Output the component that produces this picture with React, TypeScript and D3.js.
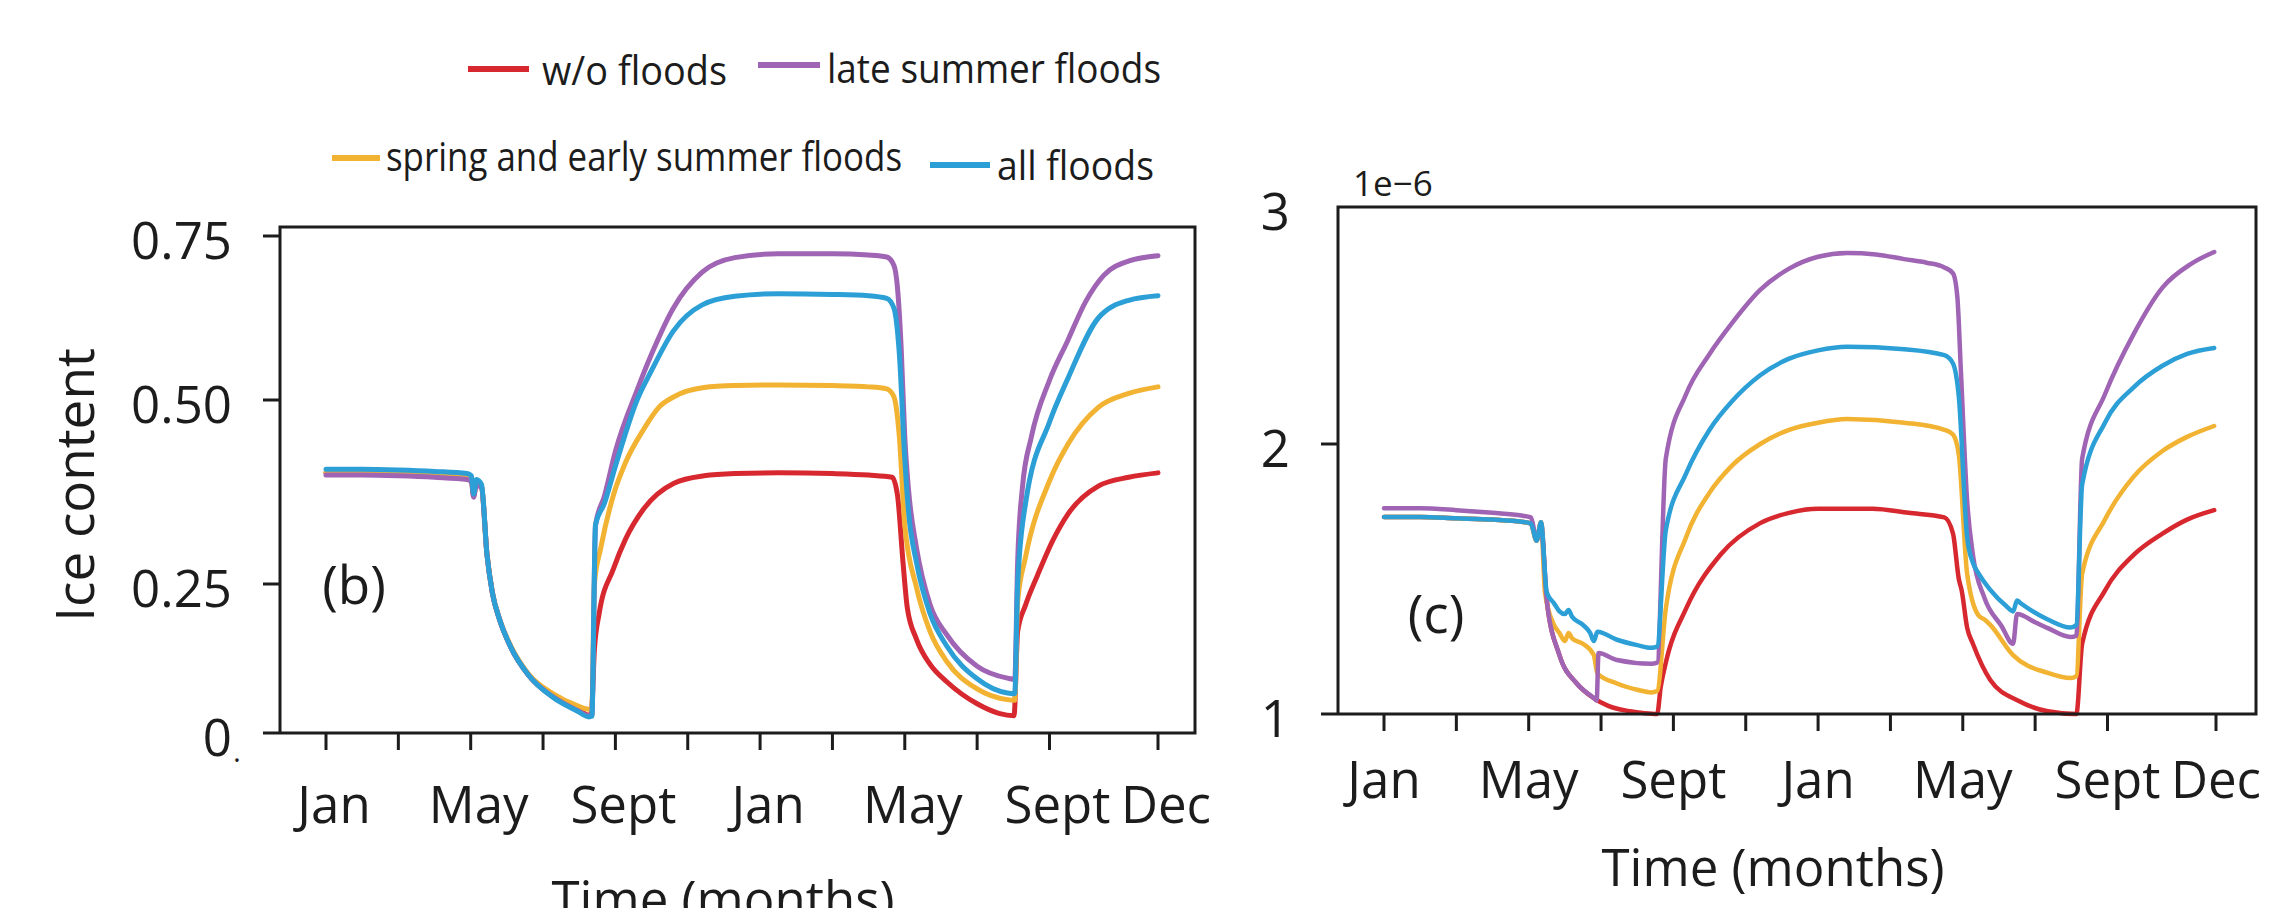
import React from "react";
import * as d3 from "d3";

type Pt = [number, number];

// Month index along the two-year axis (0 = Jan of year 1, 23 = Dec of year 2)
const MONTH_TICKS = [0, 2, 4, 6, 8, 10, 12, 14, 16, 18, 20, 23];
const MONTH_LABELS: [number, string][] = [
  [0, "Jan"], [4, "May"], [8, "Sept"], [12, "Jan"], [16, "May"], [20, "Sept"], [23, "Dec"],
];

const ICE_TICKS = [0, 0.25, 0.5, 0.75];
const ICE_TICK_LABELS = ["0", "0.25", "0.50", "0.75"];
const C_TICKS = [1, 2, 3];
const C_TICK_LABELS = ["1", "2", "3"];

const SERIES_NAMES = ["w/o floods", "late summer floods", "spring and early summer floods", "all floods"];
const COLORS = {
  none: "#d7282f",
  late: "#a064b4",
  spring: "#f2b232",
  all: "#2b9fd6",
};

// Panel (b): ice content
const bWithout: Pt[] = [
  [0, 0.401], [1, 0.401], [2, 0.4], [3, 0.398], [3.9, 0.395], [4.02, 0.392], [4.08, 0.37], [4.16, 0.388],
  [4.3, 0.382], [4.45, 0.29], [4.6, 0.235], [4.8, 0.19], [5.1, 0.145], [5.6, 0.097], [6.27, 0.061],
  [6.94, 0.04], [7.27, 0.03], [7.33, 0.03], [7.42, 0.14], [7.55, 0.2], [7.94, 0.27], [8.28, 0.311],
  [8.78, 0.352], [9.62, 0.387], [10.45, 0.397], [11.3, 0.4], [12.5, 0.401], [14, 0.4], [15, 0.398],
  [15.65, 0.395], [15.8, 0.37], [15.95, 0.28], [16.07, 0.21], [16.32, 0.158], [16.7, 0.115], [17.16, 0.086],
  [18.0, 0.049], [18.6, 0.033], [19.02, 0.029], [19.12, 0.17], [19.34, 0.215], [19.67, 0.262], [20.1, 0.31],
  [20.51, 0.345], [21.35, 0.383], [22.19, 0.395], [23, 0.401],
];
const bSpring: Pt[] = [
  [0, 0.401], [1, 0.401], [2, 0.4], [3, 0.398], [3.9, 0.395], [4.02, 0.392], [4.08, 0.37], [4.16, 0.388],
  [4.3, 0.382], [4.45, 0.29], [4.6, 0.236], [4.8, 0.191], [5.1, 0.147], [5.6, 0.099], [6.27, 0.066],
  [6.94, 0.046], [7.27, 0.04], [7.35, 0.042], [7.42, 0.25], [7.6, 0.3], [7.94, 0.37], [8.28, 0.415],
  [8.78, 0.46], [9.2, 0.49], [9.62, 0.505], [10.45, 0.519], [11.3, 0.522], [12.5, 0.523], [14, 0.522],
  [15, 0.52], [15.5, 0.517], [15.7, 0.505], [15.85, 0.45], [16.0, 0.33], [16.32, 0.245], [16.7, 0.17],
  [17.16, 0.12], [18.0, 0.074], [18.84, 0.056], [19.04, 0.055], [19.12, 0.22], [19.34, 0.287], [20.0, 0.39],
  [20.51, 0.44], [21.35, 0.49], [22.19, 0.51], [23, 0.52],
];
const bLate: Pt[] = [
  [0, 0.398], [1, 0.398], [2, 0.397], [3, 0.395], [3.9, 0.392], [4.02, 0.389], [4.08, 0.368], [4.16, 0.385],
  [4.3, 0.38], [4.45, 0.29], [4.6, 0.235], [4.8, 0.19], [5.1, 0.145], [5.6, 0.097], [6.27, 0.061],
  [6.94, 0.038], [7.27, 0.029], [7.35, 0.03], [7.45, 0.33], [7.7, 0.37], [8.0, 0.43], [8.6, 0.515],
  [9.0, 0.57], [9.6, 0.64], [10.4, 0.695], [11.3, 0.717], [12.5, 0.723], [14, 0.723], [15, 0.721],
  [15.5, 0.718], [15.7, 0.705], [15.8, 0.67], [15.9, 0.58], [16.0, 0.45], [16.1, 0.38], [16.32, 0.3],
  [16.7, 0.215], [17.16, 0.165], [18.0, 0.112], [18.84, 0.092], [19.04, 0.09], [19.12, 0.28], [19.25, 0.38],
  [19.5, 0.45], [20.0, 0.53], [20.5, 0.59], [21.0, 0.65], [21.5, 0.69], [22.2, 0.712], [23, 0.72],
];
const bAll: Pt[] = [
  [0, 0.406], [1, 0.406], [2, 0.405], [3, 0.403], [3.9, 0.4], [4.02, 0.397], [4.08, 0.372], [4.16, 0.392],
  [4.3, 0.385], [4.45, 0.29], [4.6, 0.235], [4.8, 0.19], [5.1, 0.145], [5.6, 0.097], [6.27, 0.06],
  [6.94, 0.037], [7.27, 0.027], [7.35, 0.028], [7.45, 0.33], [7.7, 0.36], [8.0, 0.41], [8.6, 0.5],
  [9.0, 0.545], [9.6, 0.605], [10.4, 0.645], [11.3, 0.658], [12.5, 0.662], [14, 0.661], [15, 0.659],
  [15.5, 0.655], [15.7, 0.64], [15.85, 0.57], [16.0, 0.42], [16.1, 0.35], [16.32, 0.28], [16.7, 0.2],
  [17.16, 0.146], [18.0, 0.091], [18.84, 0.067], [19.04, 0.066], [19.12, 0.25], [19.34, 0.36], [20.0, 0.47],
  [20.51, 0.533], [21.35, 0.625], [22.19, 0.652], [23, 0.659],
];

// Panel (c): values in units of 1e-6
const cWithout: Pt[] = [
  [0, 1.73], [1, 1.73], [2, 1.725], [3, 1.72], [3.8, 1.712], [4.06, 1.705], [4.22, 1.642], [4.34, 1.71],
  [4.5, 1.42], [4.85, 1.218], [5.33, 1.113], [5.8, 1.059], [6.2, 1.03], [6.8, 1.01], [7.2, 1.003],
  [7.55, 1.0], [7.65, 1.1], [7.79, 1.19], [8.35, 1.39], [9.3, 1.59], [10.4, 1.707], [11.2, 1.745],
  [12.0, 1.76], [13.5, 1.76], [14.5, 1.745], [15.49, 1.728], [15.73, 1.668], [15.89, 1.5], [15.97, 1.457],
  [16.12, 1.32], [16.28, 1.26], [16.76, 1.126], [17.55, 1.048], [18.35, 1.01], [19.14, 1.0], [19.3, 1.26],
  [19.93, 1.457], [20.73, 1.59], [21.52, 1.668], [22.2, 1.72], [22.95, 1.755],
];
const cSpring: Pt[] = [
  [0, 1.73], [1, 1.73], [2, 1.725], [3, 1.72], [3.8, 1.712], [4.06, 1.705], [4.22, 1.642], [4.34, 1.71],
  [4.45, 1.45], [4.7, 1.33], [4.85, 1.3], [5.0, 1.27], [5.1, 1.3], [5.2, 1.28], [5.5, 1.26], [5.8, 1.218],
  [5.9, 1.15], [6.44, 1.113], [7.0, 1.09], [7.39, 1.08], [7.55, 1.085], [7.79, 1.39], [8.35, 1.655],
  [9.0, 1.82], [9.62, 1.92], [10.4, 2.0], [11.2, 2.06], [12.0, 2.09], [12.8, 2.105], [14.38, 2.09],
  [15.49, 2.06], [15.73, 2.04], [15.89, 1.96], [16.12, 1.52], [16.44, 1.364], [16.6, 1.35], [16.76, 1.33],
  [17.39, 1.218], [18.35, 1.152], [18.98, 1.133], [19.14, 1.14], [19.3, 1.52], [19.93, 1.72], [20.73, 1.88],
  [21.52, 1.974], [22.2, 2.03], [22.95, 2.076],
];
const cLate: Pt[] = [
  [0, 1.762], [1, 1.762], [2, 1.755], [3, 1.745], [3.8, 1.735], [4.06, 1.728], [4.22, 1.65], [4.34, 1.69],
  [4.5, 1.42], [4.85, 1.218], [5.33, 1.113], [5.8, 1.059], [5.88, 1.05], [5.93, 1.226], [6.44, 1.2],
  [7.39, 1.186], [7.55, 1.19], [7.79, 1.946], [8.35, 2.21], [9.0, 2.38], [9.62, 2.51], [10.4, 2.65],
  [11.2, 2.74], [12.0, 2.79], [12.8, 2.806], [13.6, 2.8], [14.38, 2.78], [15.0, 2.765], [15.49, 2.745],
  [15.73, 2.72], [15.85, 2.62], [15.95, 2.3], [16.12, 1.79], [16.28, 1.59], [16.6, 1.43], [17.07, 1.326],
  [17.39, 1.26], [17.5, 1.37], [18.0, 1.34], [18.35, 1.318], [18.98, 1.285], [19.14, 1.29], [19.3, 1.946],
  [19.93, 2.21], [20.73, 2.466], [21.52, 2.66], [22.31, 2.76], [22.95, 2.81],
];
const cAll: Pt[] = [
  [0, 1.73], [1, 1.73], [2, 1.725], [3, 1.72], [3.8, 1.712], [4.06, 1.705], [4.22, 1.642], [4.34, 1.71],
  [4.5, 1.45], [4.7, 1.41], [4.85, 1.38], [5.0, 1.37], [5.1, 1.385], [5.2, 1.36], [5.5, 1.33], [5.7, 1.3],
  [5.8, 1.27], [5.9, 1.305], [6.44, 1.275], [7.0, 1.255], [7.39, 1.245], [7.55, 1.25], [7.79, 1.68],
  [8.35, 1.89], [9.0, 2.06], [9.62, 2.18], [10.4, 2.29], [11.2, 2.36], [12.0, 2.395], [12.8, 2.41],
  [14.38, 2.4], [15.49, 2.375], [15.73, 2.34], [15.89, 2.2], [16.12, 1.655], [16.28, 1.56], [16.44, 1.52],
  [16.76, 1.46], [17.2, 1.4], [17.39, 1.38], [17.5, 1.42], [17.6, 1.41], [18.35, 1.35], [18.98, 1.32],
  [19.14, 1.33], [19.3, 1.85], [19.93, 2.09], [20.73, 2.24], [21.52, 2.33], [22.2, 2.38], [22.95, 2.405],
];

const FONT = "'Open Sans', 'Noto Sans', sans-serif";
const INK = "#1c1c1c";
const TICK = 17;

type Scale = d3.ScaleLinear<number, number>;

interface PanelProps {
  x: Scale;
  y: Scale;
  right: number;
  top: number;
  yTicks: number[];
  yLabels: string[];
  drawTopTick: boolean;
  xLabelDx: number;
  xLabelDrop: number;
  series: { data: Pt[]; color: string }[];
  lineWidth: number;
}

function Panel({ x, y, right, top, yTicks, yLabels, drawTopTick, xLabelDx, xLabelDrop, series, lineWidth }: PanelProps) {
  const left = x.range()[0] - 46;
  const bottom = y(y.domain()[0]);
  const line = d3
    .line<Pt>()
    .x((d) => x(d[0]))
    .y((d) => y(d[1]))
    .curve(d3.curveMonotoneX);
  return (
    <g>
      {series.map((s, i) => (
        <path
          key={i}
          d={line(s.data) ?? ""}
          fill="none"
          stroke={s.color}
          strokeWidth={lineWidth}
          strokeLinejoin="round"
          strokeLinecap="round"
        />
      ))}
      <path
        d={`M${left},${bottom}V${top}H${right}V${bottom}H${left - TICK}`}
        fill="none"
        stroke={INK}
        strokeWidth={3}
      />
      {yTicks.map((v, i) => {
        const py = y(v);
        const showTick = i > 0 && (drawTopTick || i < yTicks.length - 1);
        return (
          <g key={v}>
            {showTick && <line x1={left - TICK} x2={left} y1={py} y2={py} stroke={INK} strokeWidth={3} />}
            <text
              x={left - TICK - 31}
              y={py + 23}
              textAnchor="end"
              fontSize={51}
              fontFamily={FONT}
              fill={INK}
            >
              {yLabels[i]}
            </text>
          </g>
        );
      })}
      {MONTH_TICKS.map((m) => (
        <line key={m} x1={x(m)} x2={x(m)} y1={bottom} y2={bottom + TICK} stroke={INK} strokeWidth={3} />
      ))}
      {MONTH_LABELS.map(([m, label], i) => (
        <text
          key={i}
          x={x(m) + xLabelDx}
          y={bottom + xLabelDrop}
          textAnchor="middle"
          fontSize={51}
          fontFamily={FONT}
          fill={INK}
        >
          {label}
        </text>
      ))}
    </g>
  );
}

export default function App() {
  const xB = d3.scaleLinear().domain([0, 23]).range([326, 1158]);
  const yB = d3.scaleLinear().domain([0, 0.25, 0.5, 0.75]).range([733, 584, 400, 236]);
  const xC = d3.scaleLinear().domain([0, 23]).range([1384, 2216]);
  const yC = d3.scaleLinear().domain([1, 2, 3]).range([714, 444, 207]);

  const legendText = { fontSize: 41, fontFamily: FONT, fill: INK } as const;

  return (
    <svg
      width={2276}
      height={908}
      viewBox="0 0 2276 908"
      style={{ position: "absolute", left: 0, top: 0, display: "block", background: "#fff" }}
    >
      <rect width={2276} height={908} fill="#fff" />

      {/* legend */}
      <line x1={468} x2={529} y1={69} y2={69} stroke={COLORS.none} strokeWidth={6} />
      <text x={542} y={85} textLength={185} lengthAdjust="spacingAndGlyphs" {...legendText}>
        {SERIES_NAMES[0]}
      </text>
      <line x1={758} x2={820} y1={65} y2={65} stroke={COLORS.late} strokeWidth={6} />
      <text x={827} y={83} textLength={334} lengthAdjust="spacingAndGlyphs" {...legendText}>
        {SERIES_NAMES[1]}
      </text>
      <line x1={332} x2={380} y1={158} y2={158} stroke={COLORS.spring} strokeWidth={6} />
      <text x={386} y={171} textLength={516} lengthAdjust="spacingAndGlyphs" {...legendText}>
        {SERIES_NAMES[2]}
      </text>
      <line x1={930} x2={990} y1={165} y2={165} stroke={COLORS.all} strokeWidth={6} />
      <text x={997} y={180} textLength={157} lengthAdjust="spacingAndGlyphs" {...legendText}>
        {SERIES_NAMES[3]}
      </text>

      {/* panel (b) */}
      <Panel
        x={xB}
        y={yB}
        right={1195}
        top={227}
        yTicks={ICE_TICKS}
        yLabels={ICE_TICK_LABELS}
        drawTopTick={true}
        xLabelDx={8}
        xLabelDrop={90}
        lineWidth={5}
        series={[
          { data: bWithout, color: COLORS.none },
          { data: bSpring, color: COLORS.spring },
          { data: bLate, color: COLORS.late },
          { data: bAll, color: COLORS.all },
        ]}
      />
      <text x={354} y={604} textAnchor="middle" fontSize={53} fontFamily={FONT} fill={INK}>
        (b)
      </text>
      <text x={237} y={762} textAnchor="middle" fontSize={30} fontFamily={FONT} fill={INK}>
        .
      </text>
      <text
        transform="translate(94,485) rotate(-90)"
        textAnchor="middle"
        fontSize={53}
        fontFamily={FONT}
        fill={INK}
      >
        Ice content
      </text>
      <text x={723} y={918} textAnchor="middle" fontSize={51} fontFamily={FONT} fill={INK}>
        Time (months)
      </text>

      {/* panel (c) */}
      <Panel
        x={xC}
        y={yC}
        right={2256}
        top={207}
        yTicks={C_TICKS}
        yLabels={C_TICK_LABELS}
        drawTopTick={false}
        xLabelDx={0}
        xLabelDrop={84}
        lineWidth={4.5}
        series={[
          { data: cWithout, color: COLORS.none },
          { data: cSpring, color: COLORS.spring },
          { data: cLate, color: COLORS.late },
          { data: cAll, color: COLORS.all },
        ]}
      />
      <text x={1353} y={196} fontSize={35} fontFamily={FONT} fill={INK}>
        1e−6
      </text>
      <text x={1436} y={633} textAnchor="middle" fontSize={53} fontFamily={FONT} fill={INK}>
        (c)
      </text>
      <text x={1773} y={886} textAnchor="middle" fontSize={51} fontFamily={FONT} fill={INK}>
        Time (months)
      </text>
    </svg>
  );
}
